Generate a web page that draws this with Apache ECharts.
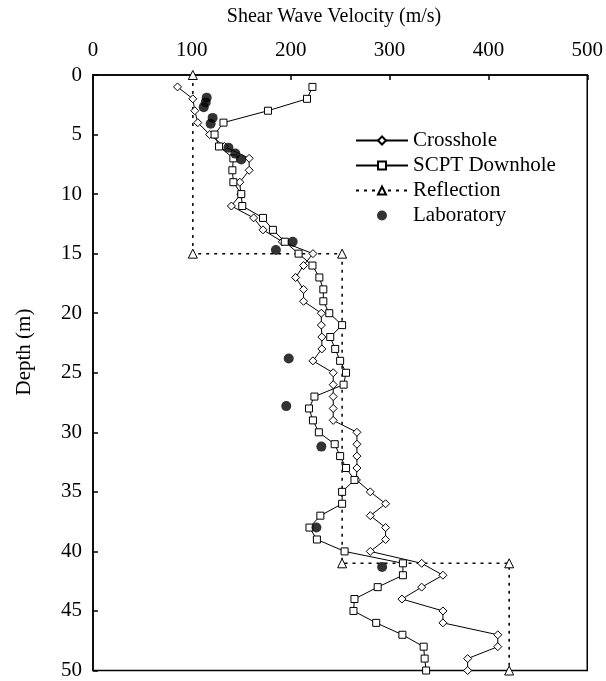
<!DOCTYPE html>
<html>
<head>
<meta charset="utf-8">
<script src="https://cdn.jsdelivr.net/npm/echarts@6/dist/echarts.min.js"></script>
<style>
  html, body { margin: 0; padding: 0; background: #fff; }
  #chart { width: 606px; height: 681px; }
</style>
</head>
<body>
<div id="chart"></div>
<script>
// Shear wave velocity (m/s) against depth (m) for four measurement methods.

// Crosshole: one reading per metre of depth
const crossholeDepth = [1,2,3,4,5,6,7,8,9,10,11,12,13,14,15,16,17,18,19,20,21,22,23,24,25,26,27,28,29,30,31,32,33,34,35,36,37,38,39,40,41,42,43,44,45,46,47,48,49,50];
const crossholeVel = [85.5,101,103,106,118,133,158,158,148.5,149.5,140,162.5,172,191.5,222.5,213,205,213,213,231,231,231.5,231.5,222.5,243,243,243,243,243,267,267,267,267,266.5,280.5,296,280.5,296,296,280.5,332.5,354,332.5,312.5,354,354,409.5,409.5,379,379];

// SCPT downhole: one reading per metre of depth
const scptDepth = [1,2,3,4,5,6,7,8,9,10,11,12,13,14,15,16,17,18,19,20,21,22,23,24,25,26,27,28,29,30,31,32,33,34,35,36,37,38,39,40,41,42,43,44,45,46,47,48,49,50];
const scptVel = [222,216.5,177,132,123,127.5,142,141,142,150,151,172,182,194,208,222,229,233,233,239,252,240,245,250,256,253.5,224,218.5,222.5,228.5,244.5,250,256,264.5,252,252,230,219,226.5,254.5,313.5,313.5,288,264.5,263.5,286.5,313,334.5,335.5,337];

// Seismic reflection: layered (step) profile
const reflectionDepth = [0,15,15,41,41,50];
const reflectionVel = [101,101,252,252,421,421];

// Laboratory tests on samples
const labDepth = [1.9,2.3,2.7,3.6,4.1,6.1,6.6,7.1,14.0,14.7,23.8,27.8,31.2,38.0,41.3];
const labVel = [115,114,112,121,119,137,144,150,202,185,198,195.5,231,226,292.5];

// Axis ticks
const velocityTicks = [0,100,200,300,400,500];
const depthTicks = [0,5,10,15,20,25,30,35,40,45,50];

const pairs = (v, d) => v.map((x, i) => [x, d[i]]);

const FONT = '"Liberation Serif", "Times New Roman", serif';
const INK = '#000';

const chart = echarts.init(document.getElementById('chart'), null, { renderer: 'canvas' });

const openMarker = { color: '#fff', borderColor: INK, borderWidth: 1 };

chart.setOption({
  animation: false,
  backgroundColor: '#fff',
  textStyle: { fontFamily: FONT, color: INK },
  grid: {
    left: 93, right: 18, top: 75, bottom: 9,
    show: true, borderColor: INK, borderWidth: 1.5, backgroundColor: 'transparent'
  },
  legend: {
    orient: 'vertical',
    left: 350,
    top: 125,
    itemWidth: 52,
    itemHeight: 10,
    itemGap: 4,
    textStyle: { fontFamily: FONT, fontSize: 21, color: INK },
    data: ['Crosshole', 'SCPT Downhole', 'Reflection', 'Laboratory']
  },
  xAxis: {
    type: 'value',
    position: 'top',
    min: velocityTicks[0],
    max: velocityTicks[velocityTicks.length - 1],
    interval: velocityTicks[1] - velocityTicks[0],
    axisLine: { show: true, lineStyle: { color: INK, width: 1.5 } },
    axisTick: { show: true, inside: true, length: 5, lineStyle: { color: INK, width: 1.5 } },
    axisLabel: { fontFamily: FONT, fontSize: 21, color: INK, margin: 14 },
    splitLine: { show: false }
  },
  yAxis: {
    type: 'value',
    inverse: true,
    min: depthTicks[0],
    max: depthTicks[depthTicks.length - 1],
    interval: depthTicks[1] - depthTicks[0],
    axisLine: { show: true, lineStyle: { color: INK, width: 1.5 } },
    axisTick: { show: true, inside: true, length: 5, lineStyle: { color: INK, width: 1.5 } },
    axisLabel: { fontFamily: FONT, fontSize: 21, color: INK, margin: 11 },
    splitLine: { show: false }
  },
  graphic: [
    {
      type: 'text', x: 334, y: 17,
      style: { text: 'Shear Wave Velocity (m/s)', font: '20px ' + FONT, fill: INK, textAlign: 'center', textVerticalAlign: 'middle' }
    },
    {
      type: 'text', x: 24, y: 352, rotation: Math.PI / 2,
      style: { text: 'Depth (m)', font: '21px ' + FONT, fill: INK, textAlign: 'center', textVerticalAlign: 'middle' }
    }
  ],
  series: [
    {
      name: 'Crosshole',
      type: 'line',
      data: pairs(crossholeVel, crossholeDepth),
      symbol: 'diamond',
      symbolSize: 8,
      showAllSymbol: true,
      clip: false,
      lineStyle: { color: INK, width: 1 },
      itemStyle: openMarker,
      z: 3
    },
    {
      name: 'SCPT Downhole',
      type: 'line',
      data: pairs(scptVel, scptDepth),
      symbol: 'rect',
      symbolSize: 7,
      showAllSymbol: true,
      clip: false,
      lineStyle: { color: INK, width: 1 },
      itemStyle: openMarker,
      z: 3
    },
    {
      name: 'Reflection',
      type: 'line',
      data: pairs(reflectionVel, reflectionDepth),
      symbol: 'triangle',
      symbolSize: 9,
      showAllSymbol: true,
      clip: false,
      lineStyle: { color: INK, width: 1.5, type: [3, 5] },
      itemStyle: openMarker,
      z: 2
    },
    {
      name: 'Laboratory',
      type: 'scatter',
      data: pairs(labVel, labDepth),
      symbol: 'circle',
      symbolSize: 10,
      clip: false,
      itemStyle: { color: INK },
      z: 4
    }
  ]
});
</script>
</body>
</html>
